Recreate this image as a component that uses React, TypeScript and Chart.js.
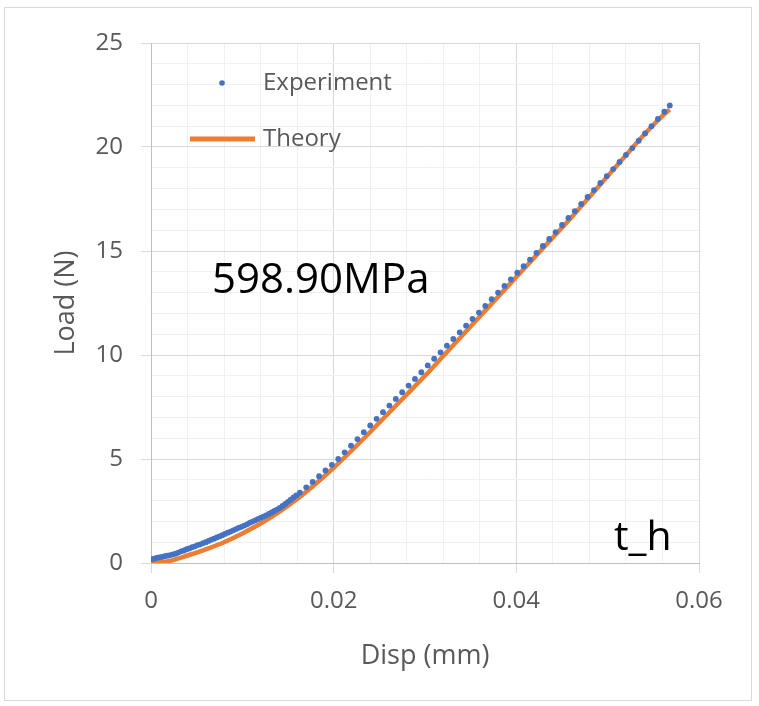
import React, { useEffect, useRef } from "react";
import { Chart, registerables } from "chart.js";

Chart.register(...registerables);

const seriesNames = ["Experiment", "Theory"];
const xTitle = "Disp (mm)";
const yTitle = "Load (N)";
const annotationText = "598.90MPa";
const cornerText = "t_h";

const xMajorTicks = [0, 0.02, 0.04, 0.06];
const yMajorTicks = [0, 5, 10, 15, 20, 25];

const expDisp = [
  0, 0.0003, 0.0006, 0.0009, 0.0012, 0.0015, 0.0018, 0.0021, 0.0024, 0.0027,
  0.003, 0.0033, 0.0036, 0.0039, 0.0042, 0.0045, 0.0048, 0.0051, 0.0054, 0.0057,
  0.006, 0.0063, 0.0066, 0.0069, 0.0072, 0.0075, 0.0078, 0.0081, 0.0084, 0.0087,
  0.009, 0.0093, 0.0096, 0.0099, 0.0102, 0.0105, 0.0108, 0.0111, 0.0114, 0.0117,
  0.012, 0.0123, 0.0126, 0.0129, 0.0132, 0.0135, 0.0138, 0.0141, 0.0144, 0.0147,
  0.015, 0.0153, 0.0156, 0.0159,
  0.0163, 0.017, 0.0177, 0.0184, 0.0191, 0.0198, 0.0205, 0.0212, 0.0219, 0.0226,
  0.0233, 0.024, 0.0247, 0.0254, 0.0261, 0.0268, 0.0275, 0.0282, 0.0289, 0.0296,
  0.0303, 0.031, 0.0317, 0.0324, 0.0331, 0.0338, 0.0345, 0.0352, 0.0359, 0.0366,
  0.0373, 0.038, 0.0387, 0.0394, 0.0401, 0.0408, 0.0415, 0.0422, 0.0429, 0.0436,
  0.0443, 0.045, 0.0457, 0.0464, 0.0471, 0.0478, 0.0485, 0.0492, 0.0499, 0.0506,
  0.0513, 0.052, 0.0527, 0.0534, 0.0541, 0.0548, 0.0555, 0.0562, 0.0568,
];

const expLoad = [
  0.18, 0.2, 0.24, 0.27, 0.29, 0.33, 0.35, 0.38, 0.41, 0.45,
  0.5, 0.56, 0.6, 0.66, 0.7, 0.76, 0.8, 0.86, 0.9, 0.96,
  1.0, 1.06, 1.12, 1.17, 1.23, 1.28, 1.34, 1.4, 1.46, 1.51,
  1.57, 1.63, 1.69, 1.74, 1.8, 1.86, 1.93, 1.99, 2.05, 2.11,
  2.17, 2.23, 2.29, 2.36, 2.43, 2.5, 2.57, 2.65, 2.74, 2.84,
  2.94, 3.04, 3.15, 3.25,
  3.38, 3.64, 3.9, 4.17, 4.45, 4.72, 5.0, 5.32, 5.64, 5.96,
  6.29, 6.61, 6.93, 7.25, 7.57, 7.89, 8.21, 8.53, 8.85, 9.17,
  9.5, 9.82, 10.13, 10.45, 10.77, 11.09, 11.41, 11.73, 12.04, 12.36,
  12.68, 13.0, 13.32, 13.64, 13.96, 14.27, 14.59, 14.91, 15.24, 15.58,
  15.91, 16.25, 16.59, 16.92, 17.26, 17.6, 17.93, 18.27, 18.6, 18.94,
  19.28, 19.62, 19.95, 20.3, 20.65, 21.0, 21.35, 21.7, 22.0,
];

const theoryDisp = [
  0, 0.002, 0.004, 0.006, 0.008, 0.01, 0.012, 0.014, 0.016, 0.018,
  0.02, 0.022, 0.024, 0.026, 0.028, 0.03, 0.032, 0.034, 0.036, 0.038,
  0.04, 0.042, 0.044, 0.046, 0.048, 0.05, 0.052, 0.054, 0.056, 0.0568,
];

const theoryLoad = [
  0, 0.1, 0.36, 0.66, 1.0, 1.42, 1.9, 2.45, 3.08, 3.8,
  4.58, 5.42, 6.3, 7.2, 8.1, 9.0, 9.95, 10.9, 11.85, 12.8,
  13.75, 14.7, 15.65, 16.6, 17.6, 18.6, 19.6, 20.6, 21.5, 21.8,
];

const FONT = "'Open Sans', 'Noto Sans', sans-serif";
const TEXT_GRAY = "#595959";

const isMajor = (v: number, list: number[]) =>
  list.some((m) => Math.abs(m - v) < 1e-7);

const insideLegend = {
  id: "insideLegend",
  afterDraw(chart: any) {
    const { ctx, chartArea } = chart;
    const ds = chart.data.datasets;
    const x0 = chartArea.left;
    const y0 = chartArea.top;
    ctx.save();
    ctx.fillStyle = ds[0].backgroundColor;
    ctx.beginPath();
    ctx.arc(x0 + 71, y0 + 40, 2.8, 0, Math.PI * 2);
    ctx.fill();
    ctx.strokeStyle = ds[1].borderColor;
    ctx.lineWidth = 5;
    ctx.beginPath();
    ctx.moveTo(x0 + 39, y0 + 96);
    ctx.lineTo(x0 + 104, y0 + 96);
    ctx.stroke();
    ctx.fillStyle = TEXT_GRAY;
    ctx.font = `24px ${FONT}`;
    ctx.textBaseline = "middle";
    ctx.fillText(ds[0].label, x0 + 112, y0 + 40);
    ctx.fillText(ds[1].label, x0 + 112, y0 + 96);
    ctx.restore();
  },
};

export default function App() {
  const ref = useRef<HTMLCanvasElement | null>(null);

  useEffect(() => {
    if (!ref.current) return;
    const chart = new Chart(ref.current, {
      type: "scatter",
      data: {
        datasets: [
          {
            label: seriesNames[0],
            data: expDisp.map((x, i) => ({ x, y: expLoad[i] })),
            backgroundColor: "#4472C4",
            borderColor: "#4472C4",
            borderWidth: 0,
            pointRadius: 2.9,
            showLine: false,
            order: 0,
          },
          {
            label: seriesNames[1],
            data: theoryDisp.map((x, i) => ({ x, y: theoryLoad[i] })),
            backgroundColor: "#ED7D31",
            borderColor: "#ED7D31",
            borderWidth: 4.5,
            pointRadius: 0,
            showLine: true,
            cubicInterpolationMode: "monotone",
            order: 1,
          },
        ],
      },
      options: {
        animation: false,
        responsive: false,
        devicePixelRatio: 1,
        layout: {
          autoPadding: false,
          padding: { top: 43, right: 60, left: 0, bottom: 0 },
        },
        plugins: {
          legend: { display: false },
          tooltip: { enabled: false },
        },
        scales: {
          x: {
            type: "linear",
            min: 0,
            max: 0.06,
            afterFit: (s: any) => {
              s.height = 143;
            },
            ticks: {
              stepSize: 0.004,
              autoSkip: false,
              maxRotation: 0,
              padding: 14,
              color: TEXT_GRAY,
              font: { family: FONT, size: 24 },
              callback: (v: any) => {
                const n = Number(v);
                if (!isMajor(n, xMajorTicks)) return "";
                return n === 0 ? "0" : n.toFixed(2);
              },
            },
            grid: {
              color: (c: any) =>
                isMajor(c.tick?.value ?? 0, xMajorTicks) ? "#d9d9d9" : "#f0f0f0",
              tickLength: 10,
              tickColor: (c: any) =>
                isMajor(c.tick?.value ?? 0, xMajorTicks) ? "#d9d9d9" : "rgba(0,0,0,0)",
            },
            border: { color: "#bfbfbf" },
            title: {
              display: true,
              text: xTitle,
              color: TEXT_GRAY,
              font: { family: FONT, size: 27 },
              padding: { top: 0, bottom: 33 },
            },
          },
          y: {
            type: "linear",
            min: 0,
            max: 25,
            afterFit: (s: any) => {
              s.width = 151;
            },
            ticks: {
              stepSize: 1,
              autoSkip: false,
              padding: 18,
              color: TEXT_GRAY,
              font: { family: FONT, size: 24 },
              callback: (v: any) => {
                const n = Number(v);
                return isMajor(n, yMajorTicks) ? String(n) : "";
              },
            },
            grid: {
              color: (c: any) =>
                isMajor(c.tick?.value ?? 0, yMajorTicks) ? "#d9d9d9" : "#f0f0f0",
              tickLength: 10,
              tickColor: (c: any) =>
                isMajor(c.tick?.value ?? 0, yMajorTicks) ? "#d9d9d9" : "rgba(0,0,0,0)",
            },
            border: { color: "#bfbfbf" },
            title: {
              display: true,
              text: yTitle,
              color: TEXT_GRAY,
              font: { family: FONT, size: 27 },
              padding: { top: 50, bottom: 0 },
            },
          },
        },
      },
      plugins: [insideLegend],
    } as any);
    return () => chart.destroy();
  }, []);

  return (
    <div
      style={{
        position: "absolute",
        left: 0,
        top: 0,
        width: 759,
        height: 706,
        background: "#ffffff",
      }}
    >
      <div
        style={{
          position: "absolute",
          left: 4,
          top: 7,
          width: 748,
          height: 694,
          border: "1px solid #d9d9d9",
          boxSizing: "border-box",
        }}
      />
      <canvas
        ref={ref}
        width={759}
        height={706}
        style={{ position: "absolute", left: 0, top: 0 }}
      />
      <div
        style={{
          position: "absolute",
          left: 212,
          top: 256,
          fontFamily: FONT,
          fontSize: 42,
          lineHeight: 1,
          color: "#000000",
          whiteSpace: "nowrap",
        }}
      >
        {annotationText}
      </div>
      <div
        style={{
          position: "absolute",
          left: 614,
          top: 514,
          fontFamily: FONT,
          fontSize: 41,
          lineHeight: 1,
          color: "#000000",
          whiteSpace: "nowrap",
        }}
      >
        {cornerText}
      </div>
    </div>
  );
}
